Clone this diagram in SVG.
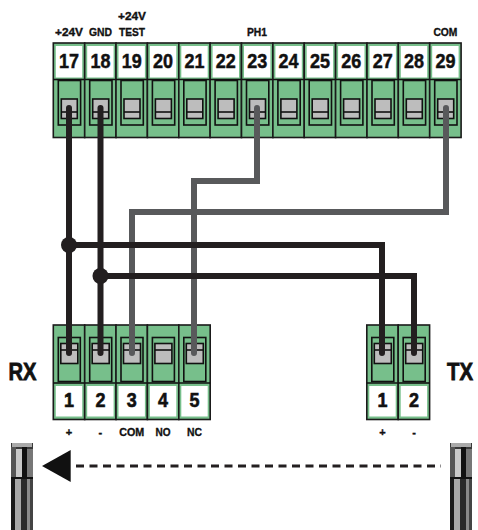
<svg xmlns="http://www.w3.org/2000/svg" width="478" height="530" viewBox="0 0 478 530">
<style>
text{font-family:"Liberation Sans",Arial,sans-serif;font-weight:700;fill:#111;stroke:#111;stroke-width:.35px;text-anchor:middle}
.n{font-size:21px;stroke-width:.5px}.m{font-size:20px;stroke-width:.6px}.l{font-size:11px}.b{font-size:24px;stroke-width:.8px}
.g{fill:#77bf8b;stroke:#1a1a1a;stroke-width:1.6}
.i{fill:none;stroke:#111;stroke-width:1.6}
.s{fill:#bdbdbd;stroke:#111;stroke-width:1.6}
.w{fill:#fff;stroke:none}
.k{fill:none;stroke:#231f20;stroke-width:6}
.y{fill:none;stroke:#58595b;stroke-width:6}
</style>
<defs>
<g id="top"><rect class="g" x="0" y="43" width="31.4" height="94.5"/><path class="i" d="M0 79.500H31.4"/><rect class="w" x="2.500" y="46" width="26.400" height="31.500"/><rect class="i" x="5" y="80.500" width="22.300" height="44.500"/><rect class="s" x="8" y="99" width="16" height="19.500"/><path class="i" d="M8 112H24"/></g>
<g id="bot"><rect class="g" x="0" y="325" width="31.4" height="94.5"/><path class="i" d="M0 383H31.4"/><rect class="w" x="2.500" y="386" width="26.400" height="30.500"/><rect class="i" x="5" y="337.500" width="22" height="44"/><rect class="s" x="7.500" y="343.500" width="17" height="20"/><path class="i" d="M7.500 350H24.500"/></g>
<g id="col">
<rect x="0" y="0" width="22" height="87" fill="#3a3a3a"/>
<rect x="1" y="0" width="20" height="4" fill="#aaa"/>
<rect x="0" y="4" width="5" height="30" fill="#555"/>
<rect x="5" y="6" width="6" height="28" fill="#c9c9c9"/>
<rect x="11" y="4" width="5" height="30" fill="#111"/>
<rect x="16" y="6" width="6" height="28" fill="#777"/>
<rect x="0" y="34" width="22" height="2" fill="#111"/>
<rect x="0" y="36" width="4" height="51" fill="#1a1a1a"/>
<rect x="4" y="36" width="6" height="51" fill="#a8a8a8"/>
<rect x="10" y="36" width="6" height="51" fill="#2a2a2a"/>
<rect x="16" y="36" width="3" height="51" fill="#8a8a8a"/>
<rect x="19" y="36" width="3" height="51" fill="#444"/>
</g>
</defs>
<g id="t17"><use href="#top" x="53.3"/><text class="n" x="69" y="68" textLength="20" lengthAdjust="spacingAndGlyphs">17</text><text class="l" x="69" y="36" textLength="28" lengthAdjust="spacingAndGlyphs">+24V</text></g>
<g id="t18"><use href="#top" x="84.7"/><text class="n" x="100.400" y="68" textLength="20" lengthAdjust="spacingAndGlyphs">18</text><text class="l" x="100.400" y="36" textLength="23" lengthAdjust="spacingAndGlyphs">GND</text></g>
<g id="t19"><use href="#top" x="116"/><text class="n" x="131.700" y="68" textLength="20" lengthAdjust="spacingAndGlyphs">19</text><text class="l" x="132" y="20" textLength="28" lengthAdjust="spacingAndGlyphs">+24V</text><text class="l" x="132" y="36" textLength="26" lengthAdjust="spacingAndGlyphs">TEST</text></g>
<g id="t20"><use href="#top" x="147.400"/><text class="n" x="163.100" y="68" textLength="20" lengthAdjust="spacingAndGlyphs">20</text></g>
<g id="t21"><use href="#top" x="178.800"/><text class="n" x="194.500" y="68" textLength="20" lengthAdjust="spacingAndGlyphs">21</text></g>
<g id="t22"><use href="#top" x="210.100"/><text class="n" x="225.800" y="68" textLength="20" lengthAdjust="spacingAndGlyphs">22</text></g>
<g id="t23"><use href="#top" x="241.500"/><text class="n" x="257.200" y="68" textLength="20" lengthAdjust="spacingAndGlyphs">23</text><text class="l" x="257" y="36" textLength="20" lengthAdjust="spacingAndGlyphs">PH1</text></g>
<g id="t24"><use href="#top" x="272.900"/><text class="n" x="288.600" y="68" textLength="20" lengthAdjust="spacingAndGlyphs">24</text></g>
<g id="t25"><use href="#top" x="304.200"/><text class="n" x="319.900" y="68" textLength="20" lengthAdjust="spacingAndGlyphs">25</text></g>
<g id="t26"><use href="#top" x="335.600"/><text class="n" x="351.300" y="68" textLength="20" lengthAdjust="spacingAndGlyphs">26</text></g>
<g id="t27"><use href="#top" x="367"/><text class="n" x="382.700" y="68" textLength="20" lengthAdjust="spacingAndGlyphs">27</text></g>
<g id="t28"><use href="#top" x="398.300"/><text class="n" x="414" y="68" textLength="20" lengthAdjust="spacingAndGlyphs">28</text></g>
<g id="t29"><use href="#top" x="429.700"/><text class="n" x="445.400" y="68" textLength="20" lengthAdjust="spacingAndGlyphs">29</text><text class="l" x="445.400" y="36" textLength="24" lengthAdjust="spacingAndGlyphs">COM</text></g>
<g id="rx1"><use href="#bot" x="53.300"/><text class="m" x="69" y="407" textLength="10" lengthAdjust="spacingAndGlyphs">1</text><text class="l" x="69" y="436">+</text></g>
<g id="rx2"><use href="#bot" x="84.700"/><text class="m" x="100.400" y="407" textLength="10" lengthAdjust="spacingAndGlyphs">2</text><text class="l" x="100.400" y="436">-</text></g>
<g id="rx3"><use href="#bot" x="116"/><text class="m" x="131.700" y="407" textLength="10" lengthAdjust="spacingAndGlyphs">3</text><text class="l" x="131.700" y="436" textLength="25" lengthAdjust="spacingAndGlyphs">COM</text></g>
<g id="rx4"><use href="#bot" x="147.400"/><text class="m" x="163.100" y="407" textLength="10" lengthAdjust="spacingAndGlyphs">4</text><text class="l" x="163.100" y="436" textLength="15" lengthAdjust="spacingAndGlyphs">NO</text></g>
<g id="rx5"><use href="#bot" x="178.800"/><text class="m" x="194.500" y="407" textLength="10" lengthAdjust="spacingAndGlyphs">5</text><text class="l" x="194.500" y="436" textLength="15" lengthAdjust="spacingAndGlyphs">NC</text></g>
<g id="tx1"><use href="#bot" x="366.800"/><text class="m" x="382.500" y="407" textLength="10" lengthAdjust="spacingAndGlyphs">1</text><text class="l" x="382.500" y="436">+</text></g>
<g id="tx2"><use href="#bot" x="398.200"/><text class="m" x="414" y="407" textLength="10" lengthAdjust="spacingAndGlyphs">2</text><text class="l" x="414" y="436">-</text></g>
<g id="connectors">
<path class="y" d="M257 108V181H194V353" stroke-linecap="round"/>
<path class="y" d="M446 108V212H132V353" stroke-linecap="round"/>
<path class="k" d="M69 108V353" stroke-linecap="round"/>
<path class="k" d="M100.500 108V353" stroke-linecap="round"/>
<path class="k" d="M69 245H382V353" stroke-linecap="round"/>
<path class="k" d="M100.500 276H414V353" stroke-linecap="round"/>
<circle cx="69" cy="245" r="8" fill="#231f20"/>
<circle cx="100.500" cy="276" r="8" fill="#231f20"/>
<path d="M76 466H441" fill="none" stroke="#231f20" stroke-width="3" stroke-dasharray="8 5.500"/>
<path d="M42 466L70.700 450V482Z" fill="#111"/>
</g>
<g id="rx-label"><text class="b" x="22.500" y="380" textLength="28" lengthAdjust="spacingAndGlyphs">RX</text></g>
<g id="tx-label"><text class="b" x="460" y="380" textLength="26" lengthAdjust="spacingAndGlyphs">TX</text></g>
<g id="rx-column"><use href="#col" x="11" y="443"/></g>
<g id="tx-column"><use href="#col" x="450" y="443"/></g>
</svg>
